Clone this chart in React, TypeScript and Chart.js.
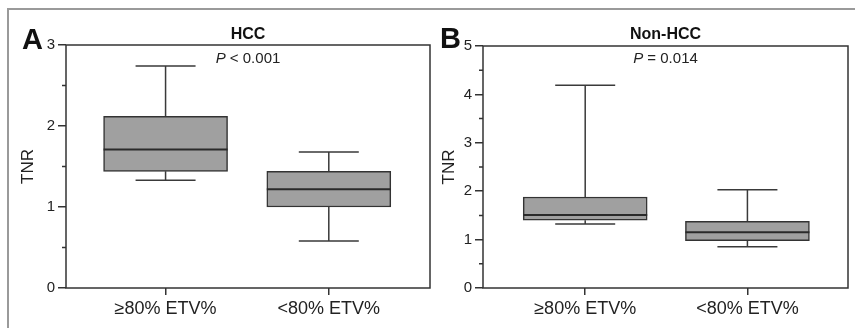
import React, { useEffect, useRef } from 'react';
import { Chart, registerables } from 'chart.js';

Chart.register(...registerables);

// ---------------- data ----------------
const categories = ['≥80% ETV%', '<80% ETV%'];
const panelLetters = ['A', 'B'];
const panelTitles = ['HCC', 'Non-HCC'];
const pValueTexts = [' < 0.001', ' = 0.014'];
const yMaxValues = [3, 5];

// Panel A – HCC
const hccMin = [1.33, 0.58];
const hccQ1 = [1.44, 1.0];
const hccMedian = [1.71, 1.22];
const hccQ3 = [2.12, 1.44];
const hccMax = [2.74, 1.68];

// Panel B – Non-HCC
const nonHccMin = [1.32, 0.85];
const nonHccQ1 = [1.4, 0.98];
const nonHccMedian = [1.51, 1.15];
const nonHccQ3 = [1.88, 1.38];
const nonHccMax = [4.19, 2.03];

const FONT = 'Arial, "Liberation Sans", Helvetica, sans-serif';

type Panel = {
  idx: number;
  mins: number[];
  q1s: number[];
  medians: number[];
  q3s: number[];
  maxs: number[];
  layout: {
    padTop: number;
    padRight: number;
    yAxisWidth: number;
    titlePad: number;
    xMin: number;
    xMax: number;
    letterX: number;
    letterY: number;
  };
};

function makeConfig(p: Panel): any {
  const { mins, q1s, medians, q3s, maxs, idx, layout } = p;
  const yMax = yMaxValues[idx];

  const boxPlugin = {
    id: 'boxExtras' + idx,
    beforeDatasetsDraw(chart: any) {
      const { ctx, scales } = chart;
      const x = scales.x;
      const y = scales.y;
      ctx.save();
      ctx.strokeStyle = '#3a3a3a';
      ctx.lineWidth = 1.5;
      categories.forEach((_, i) => {
        const cx = x.getPixelForValue(i);
        const capHalf = 30;
        const pairs: [number, number][] = [
          [q3s[i], maxs[i]],
          [q1s[i], mins[i]],
        ];
        pairs.forEach(([from, to]) => {
          const y0 = y.getPixelForValue(from);
          const y1 = y.getPixelForValue(to);
          ctx.beginPath();
          ctx.moveTo(cx, y0);
          ctx.lineTo(cx, y1);
          ctx.moveTo(cx - capHalf, y1);
          ctx.lineTo(cx + capHalf, y1);
          ctx.stroke();
        });
      });
      ctx.restore();
    },
    afterDatasetsDraw(chart: any) {
      const { ctx, scales } = chart;
      const y = scales.y;
      const meta = chart.getDatasetMeta(0);
      ctx.save();
      ctx.strokeStyle = '#2a2a2a';
      ctx.lineWidth = 2;
      meta.data.forEach((bar: any, i: number) => {
        const { x: bx, width } = bar.getProps(['x', 'width'], true);
        const my = y.getPixelForValue(medians[i]);
        ctx.beginPath();
        ctx.moveTo(bx - width / 2, my);
        ctx.lineTo(bx + width / 2, my);
        ctx.stroke();
      });
      ctx.restore();
    },
    afterDraw(chart: any) {
      const { ctx, chartArea, scales } = chart;
      const y = scales.y;
      ctx.save();
      // plot frame
      ctx.strokeStyle = '#333';
      ctx.lineWidth = 1.5;
      ctx.strokeRect(chartArea.left, chartArea.top, chartArea.right - chartArea.left, chartArea.bottom - chartArea.top);
      // minor ticks
      ctx.beginPath();
      for (let v = 0.5; v < yMax; v += 1) {
        const py = y.getPixelForValue(v);
        ctx.moveTo(chartArea.left - 4, py);
        ctx.lineTo(chartArea.left, py);
      }
      ctx.stroke();

      const cx = (chartArea.left + chartArea.right) / 2;
      // panel letter
      ctx.fillStyle = '#111';
      ctx.font = `bold 29px ${FONT}`;
      ctx.textAlign = 'left';
      ctx.textBaseline = 'alphabetic';
      ctx.fillText(panelLetters[idx], layout.letterX, layout.letterY);
      // title
      ctx.font = `bold 16px ${FONT}`;
      ctx.textAlign = 'center';
      ctx.textBaseline = 'middle';
      ctx.fillText(panelTitles[idx], cx, 35);
      // P value
      ctx.fillStyle = '#222';
      ctx.font = `italic 15px ${FONT}`;
      const wP = ctx.measureText('P').width;
      ctx.font = `15px ${FONT}`;
      const wRest = ctx.measureText(pValueTexts[idx]).width;
      const start = cx - (wP + wRest) / 2;
      ctx.textAlign = 'left';
      ctx.font = `italic 15px ${FONT}`;
      ctx.fillText('P', start, 59);
      ctx.font = `15px ${FONT}`;
      ctx.fillText(pValueTexts[idx], start + wP, 59);
      ctx.restore();
    },
  };

  return {
    type: 'bar',
    data: {
      datasets: [
        {
          data: categories.map((_, i) => ({ x: i, y: [q1s[i], q3s[i]] })),
          backgroundColor: '#a0a0a0',
          borderColor: '#333',
          borderWidth: 1.5,
          borderSkipped: false,
          barThickness: 124,
        },
      ],
    },
    options: {
      responsive: false,
      animation: false,
      layout: { padding: { left: 0, right: layout.padRight, top: layout.padTop, bottom: 0 } },
      plugins: {
        legend: { display: false },
        tooltip: { enabled: false },
        title: { display: false },
      },
      scales: {
        x: {
          type: 'linear',
          min: layout.xMin,
          max: layout.xMax,
          offset: false,
          afterBuildTicks: (s: any) => {
            s.ticks = categories.map((_, i) => ({ value: i }));
          },
          afterFit: (s: any) => {
            s.height = 40;
          },
          grid: { drawOnChartArea: false, drawTicks: true, tickLength: 7, color: '#333', lineWidth: 1.5, offset: false },
          border: { display: false },
          ticks: {
            callback: (v: any) => categories[v] ?? '',
            font: { family: FONT, size: 18 },
            color: '#222',
            padding: 3,
            maxRotation: 0,
            autoSkip: false,
          },
        },
        y: {
          type: 'linear',
          min: 0,
          max: yMax,
          afterFit: (s: any) => {
            s.width = layout.yAxisWidth;
          },
          ticks: { stepSize: 1, font: { family: FONT, size: 15 }, color: '#222', padding: 3 },
          grid: { drawOnChartArea: false, drawTicks: true, tickLength: 8, color: '#333', lineWidth: 1.5 },
          border: { display: false },
          title: {
            display: true,
            text: 'TNR',
            font: { family: FONT, size: 17 },
            color: '#222',
            padding: { top: layout.titlePad, bottom: 0 },
          },
        },
      },
    },
    plugins: [boxPlugin],
  };
}

function BoxPanel({ panel, left, width }: { panel: Panel; left: number; width: number }) {
  const ref = useRef<HTMLCanvasElement>(null);
  useEffect(() => {
    if (!ref.current) return;
    const chart = new Chart(ref.current, makeConfig(panel));
    return () => chart.destroy();
  }, []);
  return (
    <canvas
      ref={ref}
      width={width}
      height={328}
      style={{ position: 'absolute', left, top: 0, width, height: 328 }}
    />
  );
}

const panelA: Panel = {
  idx: 0,
  mins: hccMin,
  q1s: hccQ1,
  medians: hccMedian,
  q3s: hccQ3,
  maxs: hccMax,
  layout: { padTop: 45, padRight: 2, yAxisWidth: 66, titlePad: 17.8, xMin: -0.61, xMax: 1.62, letterX: 22, letterY: 49 },
};

const panelB: Panel = {
  idx: 1,
  mins: nonHccMin,
  q1s: nonHccQ1,
  medians: nonHccMedian,
  q3s: nonHccQ3,
  maxs: nonHccMax,
  layout: { padTop: 46, padRight: 7, yAxisWidth: 51, titlePad: 6.8, xMin: -0.63, xMax: 1.62, letterX: 8, letterY: 48 },
};

export default function App() {
  return (
    <div style={{ position: 'fixed', left: 0, top: 0, width: 855, height: 328, background: '#fff', overflow: 'hidden' }}>
      <div
        style={{
          position: 'absolute',
          left: 7,
          top: 8,
          width: 848,
          height: 320,
          boxSizing: 'border-box',
          borderTop: '2px solid #9a9a9a',
          borderLeft: '2px solid #9a9a9a',
        }}
      />
      <BoxPanel panel={panelA} left={0} width={432} />
      <BoxPanel panel={panelB} left={432} width={423} />
    </div>
  );
}
